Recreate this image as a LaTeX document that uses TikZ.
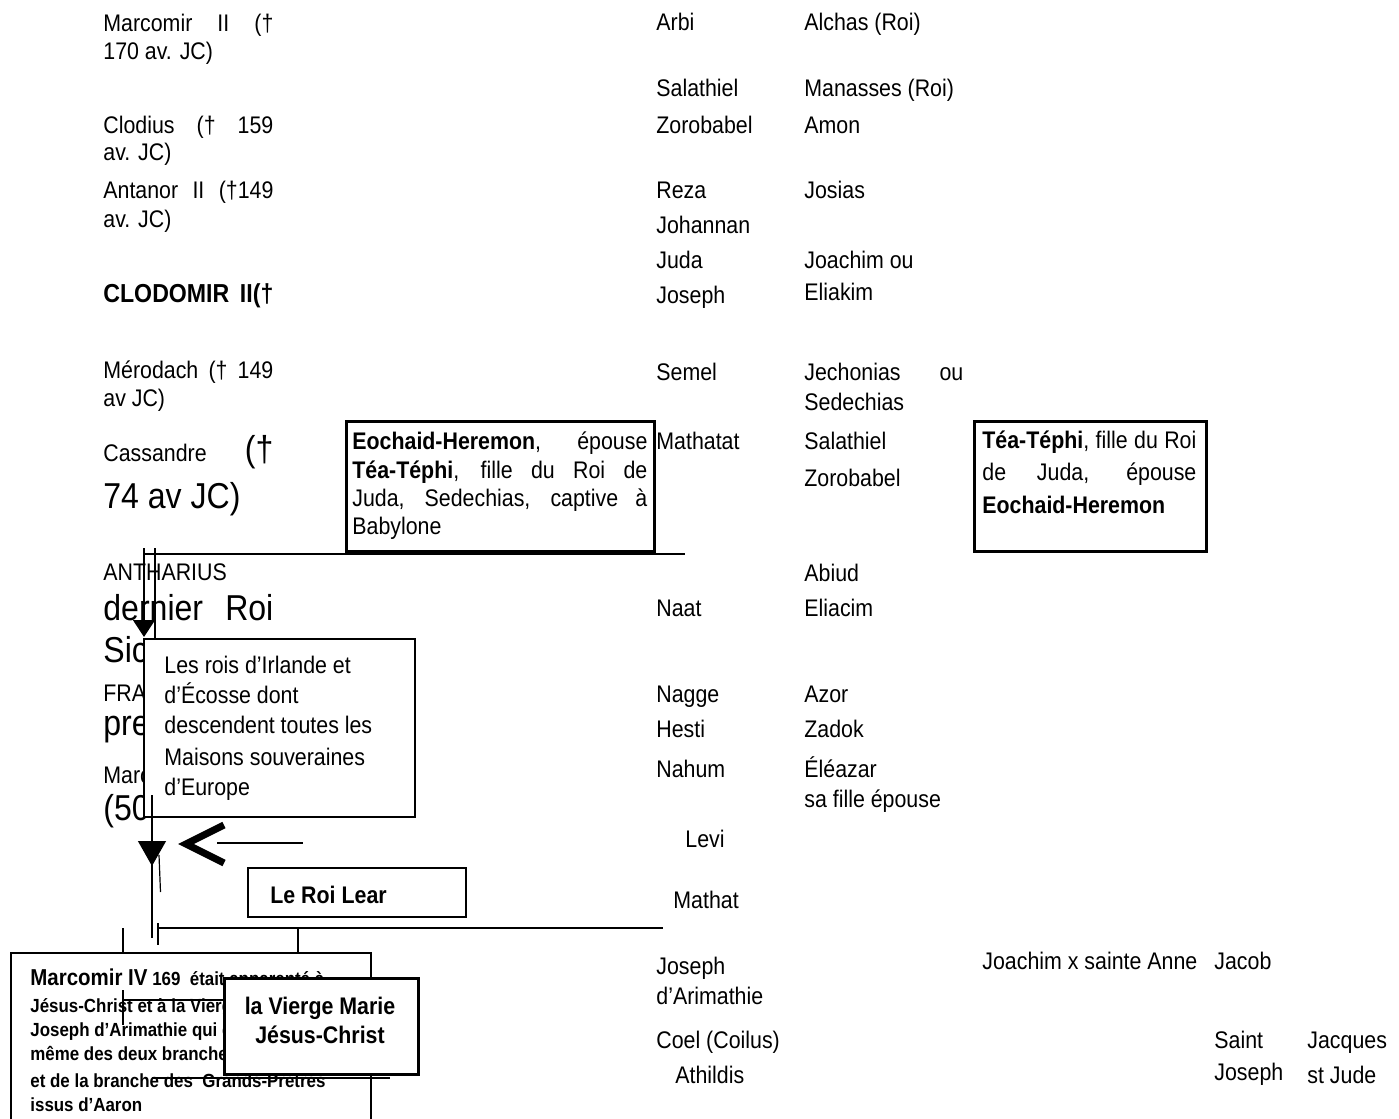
\documentclass[tikz,border=0pt]{standalone}
\usepackage{fontspec}
\setmainfont{Liberation Sans}[FakeStretch=0.89]
\usetikzlibrary{arrows.meta}

\begin{document}
\begin{tikzpicture}[x=0.5pt,y=-0.5pt,
  txt/.style={anchor=base west,inner sep=0pt,font=\fontsize{12}{14}\selectfont},
  gros/.style={txt,font=\fontsize{18}{20}\selectfont},
  gras/.style={txt,font=\fontsize{12}{14}\selectfont\bfseries},
  menu/.style={txt,font=\fontsize{9.5}{11}\selectfont\bfseries},
  trait/.style={line width=0.6pt},
  boite/.style={draw,fill=white,line width=1.2pt,anchor=north west,inner sep=0pt},
  epais/.style={boite,line width=1.6pt}]
\fill[white] (0,0) rectangle (1399,1119);
\useasboundingbox (0,0) rectangle (1399,1119);

% colonne de gauche
\node[txt] (marcomirA) at (103,32) {\makebox[85pt][s]{Marcomir II (†}};
\node[txt] (marcomirB) at (103,60) {170 av. JC)};
\node[txt] (clodiusA) at (103,133) {\makebox[85pt][s]{Clodius († 159}};
\node[txt] (clodiusB) at (103,160) {av. JC)};
\node[txt] (antanorA) at (103,198) {\makebox[85pt][s]{Antanor II (†149}};
\node[txt] (antanorB) at (103,227) {av. JC)};
\node[gras,font=\fontsize{13}{15}\selectfont\bfseries] (clodomir) at (103,302) {\makebox[85pt][s]{CLODOMIR II(†}};
\node[txt] (merodachA) at (103,378) {\makebox[85pt][s]{Mérodach († 149}};
\node[txt] (merodachB) at (103,406) {av JC)};
\node[txt] (cassandreA) at (103,461) {\makebox[85pt][s]{Cassandre {\fontsize{18}{20}\selectfont (†}}};
\node[gros] (cassandreB) at (103,508) {74 av JC)};
\node[txt] (antharius) at (103,580) {ANTHARIUS};
\node[gros] (dernier) at (103,620) {\makebox[85pt][s]{dernier Roi}};
\node[gros] (sicambres) at (103,662) {Sic};
\node[txt] (francus) at (103,701) {FRA};
\node[gros] (premier) at (103,735) {pre};
\node[txt] (marcomirC) at (103,783) {Marc};
\node[gros] (annee) at (103,820) {(50};

% colonnes du milieu
\node[txt] (arbi) at (656,31) {Arbi};
\node[txt] (alchas) at (804,31) {Alchas (Roi)};
\node[txt] (salathielA) at (656,97) {Salathiel};
\node[txt] (manasses) at (804,97) {Manasses (Roi)};
\node[txt] (zorobabelA) at (656,133) {Zorobabel};
\node[txt] (amon) at (804,133) {Amon};
\node[txt] (reza) at (656,198) {Reza};
\node[txt] (josias) at (804,198) {Josias};
\node[txt] (johannan) at (656,233) {Johannan};
\node[txt] (juda) at (656,268) {Juda};
\node[txt] (joachimA) at (804,268) {Joachim ou};
\node[txt] (josephA) at (656,303) {Joseph};
\node[txt] (eliakim) at (804,300) {Eliakim};
\node[txt] (semel) at (656,380) {Semel};
\node[txt] (jechonias) at (804,380) {\makebox[79.5pt][s]{Jechonias ou}};
\node[txt] (sedechias) at (804,410) {Sedechias};
\node[txt] (mathatat) at (656,449) {Mathatat};
\node[txt] (salathielB) at (804,449) {Salathiel};
\node[txt] (zorobabelB) at (804,486) {Zorobabel};
\node[txt] (abiud) at (804,581) {Abiud};
\node[txt] (naat) at (656,616) {Naat};
\node[txt] (eliacim) at (804,616) {Eliacim};
\node[txt] (nagge) at (656,702) {Nagge};
\node[txt] (azor) at (804,702) {Azor};
\node[txt] (hesti) at (656,737) {Hesti};
\node[txt] (zadok) at (804,737) {Zadok};
\node[txt] (nahum) at (656,777) {Nahum};
\node[txt] (eleazar) at (804,777) {Éléazar};
\node[txt] (safille) at (804,807) {sa fille épouse};
\node[txt] (levi) at (685,847) {Levi};
\node[txt] (mathat) at (673,908) {Mathat};
\node[txt] (josephB) at (656,974) {Joseph};
\node[txt] (arimathie) at (656,1004) {d’Arimathie};
\node[txt] (coel) at (656,1048) {Coel (Coilus)};
\node[txt] (athildis) at (675,1083) {Athildis};

% colonnes de droite
\node[txt] (joachimB) at (982,969) {Joachim x sainte Anne};
\node[txt] (jacob) at (1214,969) {Jacob};
\node[txt] (saint) at (1214,1048) {Saint};
\node[txt] (josephC) at (1214,1080) {Joseph};
\node[txt] (jacques) at (1307,1048) {Jacques};
\node[txt] (jude) at (1307,1083) {st Jude};

% Eochaid et Tea
\node[epais,minimum width=154pt,minimum height=65pt] (eochaid) at (345,420) {};
\node[txt] (eochaidA) at (352,449) {\makebox[147.5pt][s]{\textbf{Eochaid-Heremon}, épouse}};
\node[txt] (eochaidB) at (352,478) {\makebox[147.5pt][s]{\textbf{Téa-Téphi}, fille du Roi de}};
\node[txt] (eochaidC) at (352,506) {\makebox[147.5pt][s]{Juda, Sedechias, captive à}};
\node[txt] (eochaidD) at (352,534) {Babylone};
\node[epais,minimum width=116pt,minimum height=65pt] (tea) at (973,420) {};
\node[txt] (teaA) at (982,448) {\makebox[107pt][s]{\textbf{Téa-Téphi}, fille du Roi}};
\node[txt] (teaB) at (982,480) {\makebox[107pt][s]{de Juda, épouse}};
\node[gras] (teaC) at (982,513) {Eochaid-Heremon};

% descente vers les rois
\coordinate (barreG) at (144,554);
\coordinate (barreD) at (685,554);
\coordinate (antharG) at (144,548);
\coordinate (antharD) at (155,548);
\draw[trait] (barreG) -- (barreD);
\draw[trait,-{Triangle[length=8.5pt,width=11pt]}] (antharG) -- (144,637);
\draw[trait] (antharD) -- (155,638);
\node[boite,minimum width=135.5pt,minimum height=89pt] (rois) at (143,638) {};
\node[txt] (roisA) at (164,673) {Les rois d’Irlande et};
\node[txt] (roisB) at (164,703) {d’Écosse dont};
\node[txt] (roisC) at (164,733) {descendent toutes les};
\node[txt] (roisD) at (164,765) {Maisons souveraines};
\node[txt] (roisE) at (164,795) {d’Europe};

\coordinate (descA) at (152,795);
\coordinate (descB) at (152,866);
\coordinate (descC) at (152,938);
\draw[trait,-{Triangle[length=12.5pt,width=14pt]}] (descA) -- (descB);
\draw[trait] (152,858) -- (descC);
\draw[trait] (159,855) -- (160.5,892);
\coordinate (chevron) at (186,844);
\coordinate (venue) at (303,843);
\draw[line width=3.5pt,miter limit=20] (224,825) -- (chevron) -- (224,863);
\draw[trait] (217,843) -- (venue);

% le roi Lear
\node[boite,minimum width=109pt,minimum height=24.5pt] (lear) at (247,867) {};
\node[gras] (learT) at (270,903) {Le Roi Lear};
\coordinate (branchG) at (158,928);
\coordinate (branchD) at (663,928);
\draw[trait] (branchG) -- (branchD);
\draw[trait] (158,923) -- (158,945);
\coordinate (tiretA) at (123,928);
\coordinate (tiretB) at (298,928);

% Marcomir IV
\node[boite,minimum width=180pt,minimum height=89pt] (marcomirIV) at (10,952) {};
\draw[trait] (tiretA) -- (tiretA |- marcomirIV.north);
\draw[trait] (tiretB) -- (tiretB |- marcomirIV.north);
\node[menu] (mivA) at (30,985) {{\fontsize{11.5}{13}\selectfont Marcomir IV} 169~ était apparenté à};
\node[menu] (mivB) at (30,1012) {Jésus-Christ et à la Vierge};
\node[menu] (mivC) at (30,1036) {Joseph d’Arimathie qui d};
\node[menu] (mivD) at (30,1060) {même des deux branches};
\node[menu] (mivE) at (30,1087) {et de la branche des~ Grands-Prêtres};
\node[menu] (mivF) at (30,1111) {issus d’Aaron};
\draw[trait] (123,990) -- (123,1025);
\draw[trait] (123,1000) -- (227,1000);
\draw[trait] (152,1078) -- (390,1078);

% la Vierge
\node[epais,minimum width=97pt,minimum height=48pt] (vierge) at (223,977) {};
\node[gras,anchor=base] (viergeA) at (320,1014) {la Vierge Marie};
\node[gras,anchor=base] (viergeB) at (320,1043) {Jésus-Christ};
\end{tikzpicture}
\end{document}
